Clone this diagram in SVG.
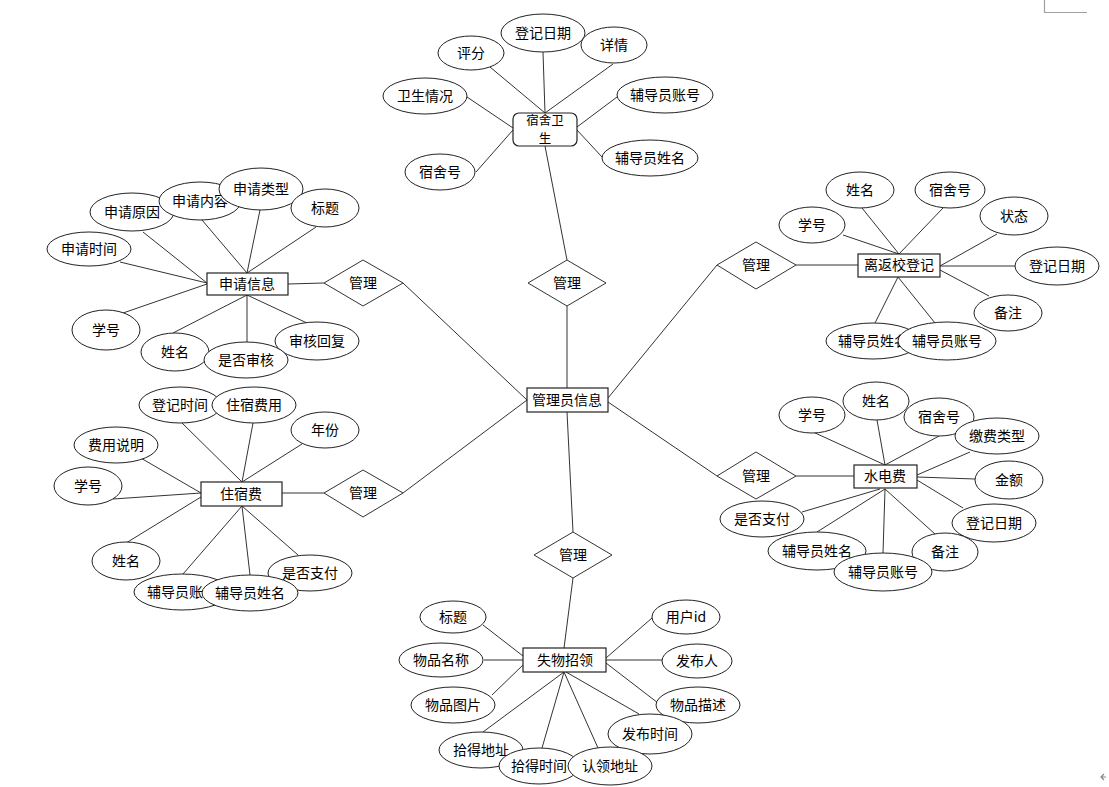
<svg xmlns="http://www.w3.org/2000/svg" width="1109" height="787" viewBox="0 0 1109 787">
<style>
.c line{stroke:#333;stroke-width:1}
ellipse{fill:#fff;stroke:#222;stroke-width:1}
rect{fill:#fff;stroke:#222;stroke-width:1.2}
polygon{fill:#fff;stroke:#333;stroke-width:1}
text{font-family:"Noto Sans CJK SC","Noto Sans",sans-serif;font-size:14px;fill:#000;text-anchor:middle}
.ui{stroke:#a0a0a0;stroke-width:1.2;fill:none}
</style>
<rect width="1109" height="787" style="fill:#fff;stroke:none"/>
<g id="connectors" class="c">
<line x1="490" y1="67" x2="545" y2="113"/>
<line x1="543" y1="52" x2="545" y2="113"/>
<line x1="613" y1="64" x2="545" y2="113"/>
<line x1="467" y1="97" x2="513" y2="128"/>
<line x1="476" y1="172" x2="513" y2="130"/>
<line x1="617" y1="97" x2="577" y2="127"/>
<line x1="602" y1="157" x2="577" y2="130"/>
<line x1="545" y1="146" x2="567" y2="260"/>
<line x1="567" y1="306" x2="567" y2="388"/>
<line x1="288" y1="284" x2="324" y2="283"/>
<line x1="403" y1="283" x2="527" y2="400"/>
<line x1="282" y1="493" x2="324" y2="493"/>
<line x1="403" y1="493" x2="527" y2="400"/>
<line x1="608" y1="398" x2="717" y2="265"/>
<line x1="796" y1="265" x2="858" y2="265"/>
<line x1="608" y1="402" x2="717" y2="476"/>
<line x1="796" y1="476" x2="854" y2="476"/>
<line x1="567" y1="412" x2="573" y2="532"/>
<line x1="573" y1="578" x2="564" y2="648"/>
<line x1="202" y1="220" x2="247" y2="273"/>
<line x1="260" y1="210" x2="247" y2="273"/>
<line x1="316" y1="227" x2="247" y2="273"/>
<line x1="143" y1="232" x2="207" y2="283"/>
<line x1="120" y1="262" x2="207" y2="283"/>
<line x1="123" y1="313" x2="207" y2="284"/>
<line x1="173" y1="333" x2="247" y2="295"/>
<line x1="247" y1="342" x2="247" y2="295"/>
<line x1="307" y1="323" x2="247" y2="295"/>
<line x1="843" y1="235" x2="899" y2="254"/>
<line x1="862" y1="208" x2="899" y2="254"/>
<line x1="943" y1="208" x2="899" y2="254"/>
<line x1="997" y1="234" x2="940" y2="266"/>
<line x1="1015" y1="266" x2="940" y2="266"/>
<line x1="989" y1="296" x2="940" y2="270"/>
<line x1="875" y1="323" x2="898" y2="277"/>
<line x1="935" y1="323" x2="898" y2="277"/>
<line x1="182" y1="423" x2="242" y2="482"/>
<line x1="253" y1="423" x2="242" y2="482"/>
<line x1="302" y1="444" x2="242" y2="482"/>
<line x1="139" y1="457" x2="201" y2="493"/>
<line x1="113" y1="499" x2="201" y2="493"/>
<line x1="126" y1="543" x2="201" y2="497"/>
<line x1="183" y1="574" x2="242" y2="506"/>
<line x1="250" y1="575" x2="242" y2="506"/>
<line x1="298" y1="555" x2="242" y2="506"/>
<line x1="813" y1="432" x2="885" y2="465"/>
<line x1="877" y1="420" x2="885" y2="465"/>
<line x1="939" y1="436" x2="885" y2="465"/>
<line x1="970" y1="452" x2="917" y2="475"/>
<line x1="975" y1="479" x2="917" y2="477"/>
<line x1="963" y1="508" x2="917" y2="480"/>
<line x1="802" y1="512" x2="880" y2="489"/>
<line x1="817" y1="532" x2="885" y2="489"/>
<line x1="883" y1="553" x2="885" y2="489"/>
<line x1="935" y1="534" x2="885" y2="489"/>
<line x1="483" y1="625" x2="523" y2="656"/>
<line x1="484" y1="660" x2="523" y2="660"/>
<line x1="492" y1="695" x2="523" y2="665"/>
<line x1="652" y1="618" x2="606" y2="658"/>
<line x1="663" y1="660" x2="606" y2="660"/>
<line x1="658" y1="703" x2="606" y2="663"/>
<line x1="639" y1="714" x2="566" y2="672"/>
<line x1="483" y1="732" x2="564" y2="672"/>
<line x1="542" y1="748" x2="564" y2="672"/>
<line x1="598" y1="748" x2="564" y2="672"/>
</g>

<!-- central entity -->
<g id="admin"><rect x="527" y="388" width="81" height="24"/><text x="567" y="405">管理员信息</text></g>

<!-- relationships -->
<g id="rel-top"><polygon points="567,260 606,283 567,306 528,283"/><text x="567" y="288">管理</text></g>
<g id="rel-left-up"><polygon points="363,260 403,283 363,306 324,283"/><text x="363" y="288">管理</text></g>
<g id="rel-left-low"><polygon points="363,470 403,493 363,517 324,493"/><text x="363" y="498">管理</text></g>
<g id="rel-right-up"><polygon points="756,242 796,265 756,289 717,265"/><text x="756" y="270">管理</text></g>
<g id="rel-right-low"><polygon points="756,452 796,476 756,499 717,476"/><text x="756" y="481">管理</text></g>
<g id="rel-bottom"><polygon points="573,532 612,555 573,578 534,555"/><text x="573" y="560">管理</text></g>

<!-- 宿舍卫生 -->
<g id="dorm-hygiene"><rect x="513" y="113" width="64" height="33" rx="6" ry="6"/><text x="545" y="125" style="font-size:12.5px"><tspan x="545" y="125">宿舍卫</tspan><tspan x="545" y="142.5">生</tspan></text></g>
<g id="dh-score"><ellipse cx="471" cy="53" rx="33" ry="17"/><text x="471" y="58">评分</text></g>
<g id="dh-date"><ellipse cx="543" cy="33" rx="42" ry="19"/><text x="543" y="38">登记日期</text></g>
<g id="dh-detail"><ellipse cx="614" cy="45" rx="33" ry="18"/><text x="614" y="50">详情</text></g>
<g id="dh-status"><ellipse cx="425" cy="96" rx="42" ry="18"/><text x="425" y="101">卫生情况</text></g>
<g id="dh-counacc"><ellipse cx="665" cy="95" rx="48" ry="18"/><text x="665" y="100">辅导员账号</text></g>
<g id="dh-counname"><ellipse cx="650" cy="158" rx="48" ry="18"/><text x="650" y="163">辅导员姓名</text></g>
<g id="dh-room"><ellipse cx="440" cy="172" rx="35" ry="18"/><text x="440" y="177">宿舍号</text></g>

<!-- 申请信息 -->
<g id="application"><rect x="207" y="273" width="81" height="22"/><text x="247" y="289">申请信息</text></g>
<g id="ap-reason"><ellipse cx="132" cy="212" rx="42" ry="19"/><text x="132" y="217">申请原因</text></g>
<g id="ap-content"><ellipse cx="200" cy="201" rx="41" ry="19"/><text x="200" y="206">申请内容</text></g>
<g id="ap-type"><ellipse cx="261" cy="189" rx="42" ry="21"/><text x="261" y="194">申请类型</text></g>
<g id="ap-title"><ellipse cx="325" cy="208" rx="34" ry="19"/><text x="325" y="213">标题</text></g>
<g id="ap-time"><ellipse cx="89" cy="249" rx="42" ry="17"/><text x="89" y="254">申请时间</text></g>
<g id="ap-sno"><ellipse cx="106" cy="330" rx="34" ry="20"/><text x="106" y="335">学号</text></g>
<g id="ap-name"><ellipse cx="175" cy="352" rx="34" ry="19"/><text x="175" y="357">姓名</text></g>
<g id="ap-reply"><ellipse cx="317" cy="341" rx="42" ry="19"/><text x="317" y="346">审核回复</text></g>
<g id="ap-audit"><ellipse cx="246" cy="360" rx="42" ry="18"/><text x="246" y="365">是否审核</text></g>

<!-- 住宿费 -->
<g id="lodging"><rect x="201" y="482" width="81" height="24"/><text x="241" y="499">住宿费</text></g>
<g id="lf-regtime"><ellipse cx="180" cy="405" rx="41" ry="18"/><text x="180" y="410">登记时间</text></g>
<g id="lf-fee"><ellipse cx="254" cy="405" rx="42" ry="18"/><text x="254" y="410">住宿费用</text></g>
<g id="lf-year"><ellipse cx="325" cy="430" rx="34" ry="18"/><text x="325" y="435">年份</text></g>
<g id="lf-desc"><ellipse cx="116" cy="445" rx="42" ry="18"/><text x="116" y="450">费用说明</text></g>
<g id="lf-sno"><ellipse cx="88" cy="486" rx="34" ry="19"/><text x="88" y="491">学号</text></g>
<g id="lf-name"><ellipse cx="126" cy="561" rx="34" ry="19"/><text x="126" y="566">姓名</text></g>
<g id="lf-paid"><ellipse cx="310" cy="573" rx="42" ry="18"/><text x="310" y="578">是否支付</text></g>
<g id="lf-counacc"><ellipse cx="182" cy="592" rx="48" ry="18"/><text x="182" y="597">辅导员账号</text></g>
<g id="lf-counname"><ellipse cx="250" cy="593" rx="48" ry="18"/><text x="250" y="598">辅导员姓名</text></g>

<!-- 离返校登记 -->
<g id="leave-return"><rect x="858" y="254" width="82" height="23"/><text x="899" y="270">离返校登记</text></g>
<g id="lr-name"><ellipse cx="860" cy="190" rx="34" ry="18"/><text x="860" y="195">姓名</text></g>
<g id="lr-room"><ellipse cx="950" cy="190" rx="35" ry="18"/><text x="950" y="195">宿舍号</text></g>
<g id="lr-sno"><ellipse cx="812" cy="225" rx="33" ry="18"/><text x="812" y="230">学号</text></g>
<g id="lr-state"><ellipse cx="1014" cy="216" rx="34" ry="19"/><text x="1014" y="221">状态</text></g>
<g id="lr-date"><ellipse cx="1057" cy="266" rx="42" ry="19"/><text x="1057" y="271">登记日期</text></g>
<g id="lr-note"><ellipse cx="1008" cy="313" rx="34" ry="18"/><text x="1008" y="318">备注</text></g>
<g id="lr-counname"><ellipse cx="873" cy="341" rx="47" ry="18"/><text x="873" y="346">辅导员姓名</text></g>
<g id="lr-counacc"><ellipse cx="947" cy="341" rx="49" ry="19"/><text x="947" y="346">辅导员账号</text></g>

<!-- 水电费 -->
<g id="utility"><rect x="854" y="465" width="63" height="23"/><text x="885" y="481">水电费</text></g>
<g id="ut-sno"><ellipse cx="812" cy="415" rx="33" ry="18"/><text x="812" y="420">学号</text></g>
<g id="ut-name"><ellipse cx="876" cy="401" rx="33" ry="19"/><text x="876" y="406">姓名</text></g>
<g id="ut-room"><ellipse cx="939" cy="417" rx="35" ry="19"/><text x="939" y="422">宿舍号</text></g>
<g id="ut-type"><ellipse cx="997" cy="436" rx="42" ry="18"/><text x="997" y="441">缴费类型</text></g>
<g id="ut-amount"><ellipse cx="1009" cy="480" rx="34" ry="19"/><text x="1009" y="485">金额</text></g>
<g id="ut-paid"><ellipse cx="762" cy="519" rx="42" ry="18"/><text x="762" y="524">是否支付</text></g>
<g id="ut-date"><ellipse cx="994" cy="523" rx="42" ry="19"/><text x="994" y="528">登记日期</text></g>
<g id="ut-counname"><ellipse cx="817" cy="551" rx="49" ry="19"/><text x="817" y="556">辅导员姓名</text></g>
<g id="ut-note"><ellipse cx="945" cy="552" rx="33" ry="19"/><text x="945" y="557">备注</text></g>
<g id="ut-counacc"><ellipse cx="883" cy="572" rx="49" ry="19"/><text x="883" y="577">辅导员账号</text></g>

<!-- 失物招领 -->
<g id="lost-found"><rect x="523" y="648" width="83" height="24"/><text x="565" y="665">失物招领</text></g>
<g id="lf2-title"><ellipse cx="453" cy="617" rx="33" ry="16"/><text x="453" y="622">标题</text></g>
<g id="lf2-name"><ellipse cx="441" cy="660" rx="42" ry="17"/><text x="441" y="665">物品名称</text></g>
<g id="lf2-img"><ellipse cx="453" cy="705" rx="42" ry="18"/><text x="453" y="710">物品图片</text></g>
<g id="lf2-uid"><ellipse cx="686" cy="617" rx="34" ry="17"/><text x="686" y="622">用户id</text></g>
<g id="lf2-pub"><ellipse cx="697" cy="661" rx="35" ry="17"/><text x="697" y="666">发布人</text></g>
<g id="lf2-desc"><ellipse cx="698" cy="705" rx="42" ry="18"/><text x="698" y="710">物品描述</text></g>
<g id="lf2-pubtime"><ellipse cx="650" cy="734" rx="42" ry="20"/><text x="650" y="739">发布时间</text></g>
<g id="lf2-foundaddr"><ellipse cx="481" cy="750" rx="42" ry="18"/><text x="481" y="755">拾得地址</text></g>
<g id="lf2-foundtime"><ellipse cx="539" cy="766" rx="40" ry="18"/><text x="539" y="771">拾得时间</text></g>
<g id="lf2-claimaddr"><ellipse cx="610" cy="766" rx="42" ry="19"/><text x="610" y="771">认领地址</text></g>

<path class="ui" d="M1044.5,0 V12.5 H1087"/>
<path d="M1106,777 H1101 M1104,774 L1101,777 L1104,780" style="stroke:#888;stroke-width:1.2;fill:none"/>
</svg>
